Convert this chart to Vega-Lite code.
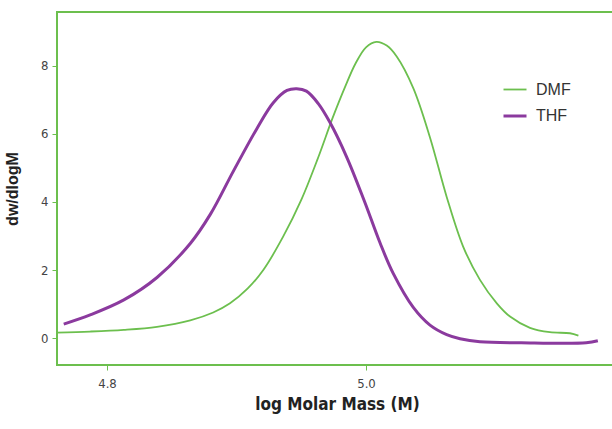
{
  "$schema": "https://vega.github.io/schema/vega-lite/v6.json",
  "autosize": {"type": "none"},
  "padding": {"left": 57, "top": 12, "right": 0, "bottom": 64},
  "width": 560,
  "height": 353,
  "background": "white",
  "config": {
    "view": {"stroke": "#6cbf4e", "strokeWidth": 2}
  },
  "data": {
    "values": [
      {"x": 4.761, "y": 0.16, "s": "DMF"},
      {"x": 4.787, "y": 0.19, "s": "DMF"},
      {"x": 4.813, "y": 0.24, "s": "DMF"},
      {"x": 4.8386, "y": 0.33, "s": "DMF"},
      {"x": 4.8643, "y": 0.52, "s": "DMF"},
      {"x": 4.882, "y": 0.75, "s": "DMF"},
      {"x": 4.895, "y": 1.02, "s": "DMF"},
      {"x": 4.9085, "y": 1.45, "s": "DMF"},
      {"x": 4.9207, "y": 2.0, "s": "DMF"},
      {"x": 4.936, "y": 2.98, "s": "DMF"},
      {"x": 4.95, "y": 4.06, "s": "DMF"},
      {"x": 4.963, "y": 5.3, "s": "DMF"},
      {"x": 4.974, "y": 6.45, "s": "DMF"},
      {"x": 4.984, "y": 7.4, "s": "DMF"},
      {"x": 4.992, "y": 8.08, "s": "DMF"},
      {"x": 5.0, "y": 8.55, "s": "DMF"},
      {"x": 5.008, "y": 8.71, "s": "DMF"},
      {"x": 5.016, "y": 8.6, "s": "DMF"},
      {"x": 5.0237, "y": 8.28, "s": "DMF"},
      {"x": 5.0365, "y": 7.35, "s": "DMF"},
      {"x": 5.0494, "y": 5.9, "s": "DMF"},
      {"x": 5.0623, "y": 4.15, "s": "DMF"},
      {"x": 5.075, "y": 2.69, "s": "DMF"},
      {"x": 5.088, "y": 1.71, "s": "DMF"},
      {"x": 5.101, "y": 1.02, "s": "DMF"},
      {"x": 5.1112, "y": 0.63, "s": "DMF"},
      {"x": 5.1266, "y": 0.3, "s": "DMF"},
      {"x": 5.142, "y": 0.17, "s": "DMF"},
      {"x": 5.1575, "y": 0.14, "s": "DMF"},
      {"x": 5.164, "y": 0.07, "s": "DMF"},
      {"x": 4.7666, "y": 0.41, "s": "THF"},
      {"x": 4.787, "y": 0.68, "s": "THF"},
      {"x": 4.813, "y": 1.12, "s": "THF"},
      {"x": 4.8386, "y": 1.78, "s": "THF"},
      {"x": 4.8643, "y": 2.78, "s": "THF"},
      {"x": 4.88, "y": 3.65, "s": "THF"},
      {"x": 4.8975, "y": 4.9, "s": "THF"},
      {"x": 4.9156, "y": 6.15, "s": "THF"},
      {"x": 4.9284, "y": 6.92, "s": "THF"},
      {"x": 4.939, "y": 7.28, "s": "THF"},
      {"x": 4.9465, "y": 7.33, "s": "THF"},
      {"x": 4.954, "y": 7.26, "s": "THF"},
      {"x": 4.963, "y": 6.9, "s": "THF"},
      {"x": 4.972, "y": 6.35, "s": "THF"},
      {"x": 4.985, "y": 5.33, "s": "THF"},
      {"x": 4.999, "y": 4.0, "s": "THF"},
      {"x": 5.0108, "y": 2.8, "s": "THF"},
      {"x": 5.021, "y": 1.9, "s": "THF"},
      {"x": 5.0365, "y": 0.9, "s": "THF"},
      {"x": 5.0494, "y": 0.38, "s": "THF"},
      {"x": 5.0623, "y": 0.1, "s": "THF"},
      {"x": 5.0726, "y": -0.02, "s": "THF"},
      {"x": 5.088, "y": -0.11, "s": "THF"},
      {"x": 5.12, "y": -0.14, "s": "THF"},
      {"x": 5.17, "y": -0.14, "s": "THF"},
      {"x": 5.179, "y": -0.08, "s": "THF"}
    ]
  },
  "mark": {"type": "line", "interpolate": "catmull-rom", "clip": true},
  "encoding": {
    "x": {
      "field": "x", "type": "quantitative",
      "scale": {"domain": [4.7614, 5.1938], "nice": false, "zero": false},
      "axis": {
        "values": [4.8, 5.0], "format": ".1f", "grid": false,
        "domain": false,
        "tickColor": "#6cbf4e", "tickSize": 5,
        "labelFont": "DejaVu Sans Condensed", "labelFontSize": 13, "labelColor": "#444", "labelPadding": 7,
        "title": "log Molar Mass (M)",
        "titleFont": "DejaVu Sans Condensed", "titleFontSize": 17, "titleFontWeight": "bold", "titleColor": "#222", "titlePadding": 6
      }
    },
    "y": {
      "field": "y", "type": "quantitative",
      "scale": {"domain": [-0.794, 9.588], "nice": false, "zero": false},
      "axis": {
        "values": [0, 2, 4, 6, 8], "format": "d", "grid": false,
        "domain": false,
        "tickColor": "#6cbf4e", "tickSize": 5,
        "labelFont": "DejaVu Sans Condensed", "labelFontSize": 13, "labelColor": "#444", "labelPadding": 4,
        "title": "dw/dlogM",
        "titleFont": "Liberation Sans", "titleFontSize": 16, "titleFontWeight": "bold", "titleColor": "#222", "titlePadding": 20
      }
    },
    "color": {
      "field": "s", "type": "nominal",
      "scale": {"domain": ["DMF", "THF"], "range": ["#6cbf4e", "#8b3a9e"]},
      "legend": {
        "title": null, "orient": "none", "legendX": 445, "legendY": 65,
        "symbolType": "stroke", "symbolSize": 529, "symbolStrokeWidth": 3,
        "labelFont": "Liberation Sans", "labelFontSize": 16, "labelColor": "#333",
        "rowPadding": 5, "labelOffset": 8
      }
    },
    "strokeWidth": {
      "field": "s", "type": "nominal",
      "scale": {"domain": ["DMF", "THF"], "range": [1.8, 3]},
      "legend": null
    }
  }
}
